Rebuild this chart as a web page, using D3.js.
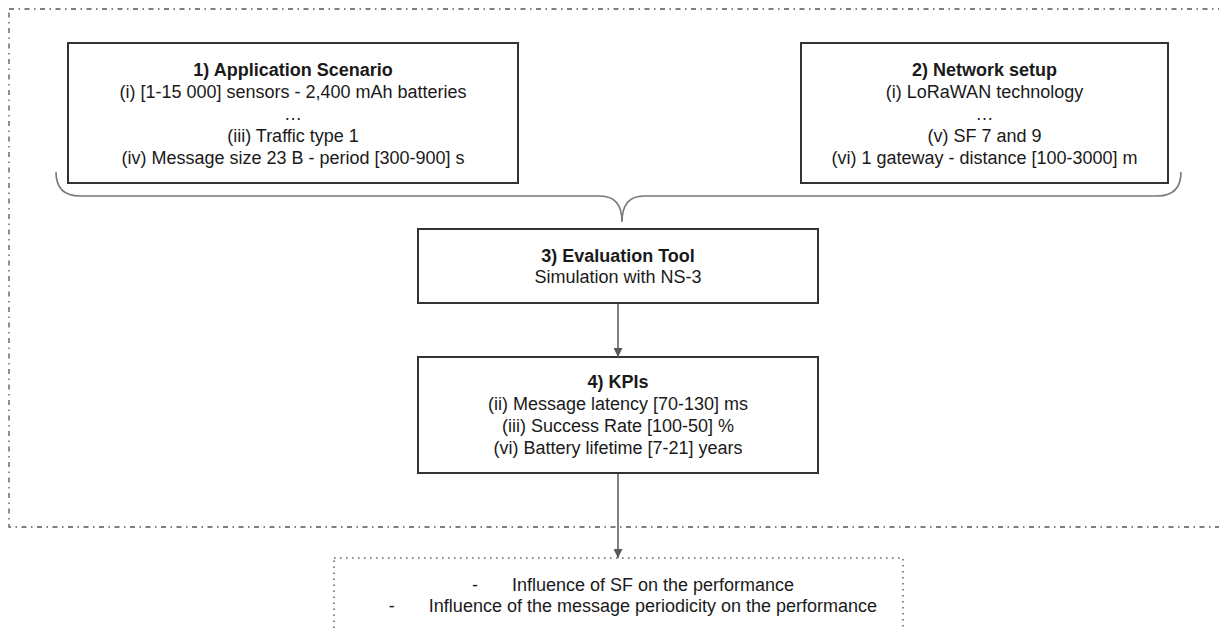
<!DOCTYPE html>
<html>
<head>
<meta charset="utf-8">
<script src="https://cdn.jsdelivr.net/npm/d3@7"></script>
<style>
    body { margin: 0; background: #fff; }
    svg text { font-family: "Liberation Sans", Arial, sans-serif; font-size: 18px; fill: #1a1a1a; }
</style>
</head>
<body>
<svg id="chart" width="1219" height="630"></svg>
<script>
// box contents
var boxTitles = ["1) Application Scenario", "2) Network setup", "3) Evaluation Tool", "4) KPIs"];
var boxLines = [
    ["(i) [1-15 000] sensors - 2,400 mAh batteries", "\u2026", "(iii) Traffic type 1", "(iv) Message size 23 B - period [300-900] s"],
    ["(i) LoRaWAN technology", "\u2026", "(v) SF 7 and 9", "(vi) 1 gateway - distance [100-3000] m"],
    ["Simulation with NS-3"],
    ["(ii) Message latency [70-130] ms", "(iii) Success Rate [100-50] %", "(vi) Battery lifetime [7-21] years"]
];
var findings = ["Influence of SF on the performance", "Influence of the message periodicity on the performance"];

// layout
var boxLayout = [
    { x: 68, y: 43, w: 450, h: 140 },
    { x: 801, y: 43, w: 367, h: 140 },
    { x: 418, y: 229, w: 400, h: 74 },
    { x: 418, y: 357, w: 400, h: 116 }
];
var lineGap = 22;
var midX = 618;

var svg = d3.select("#chart");

svg.append("defs").append("marker")
    .attr("id", "head")
    .attr("viewBox", "0 0 10 10")
    .attr("refX", 10)
    .attr("refY", 5)
    .attr("markerWidth", 10)
    .attr("markerHeight", 9)
    .attr("markerUnits", "userSpaceOnUse")
    .attr("orient", "auto")
    .append("path")
    .attr("d", "M0,0 L10,5 L0,10 Z")
    .attr("fill", "#595959");

// outer dash-dot frame (right side runs off the page)
svg.append("rect")
    .attr("x", 9)
    .attr("y", 9)
    .attr("width", 1230)
    .attr("height", 518)
    .attr("fill", "none")
    .attr("stroke", "#555")
    .attr("stroke-width", 1.3)
    .attr("stroke-dasharray", "5,4.5,1.5,4.5");

// brace joining boxes 1 and 2 into box 3
var b1 = boxLayout[0], b2 = boxLayout[1];
var braceY = 196, tipY = 222, r = 24;
var left = b1.x - 12, right = b2.x + b2.w + 13;
var brace = d3.path();
brace.moveTo(left, 172);
brace.quadraticCurveTo(left, braceY, left + r, braceY);
brace.lineTo(midX - 18, braceY);
brace.quadraticCurveTo(midX + 4, braceY, midX + 4, tipY);
brace.quadraticCurveTo(midX + 4, braceY, midX + 26, braceY);
brace.lineTo(right - r, braceY);
brace.quadraticCurveTo(right, braceY, right, 172);
svg.append("path")
    .attr("d", brace.toString())
    .attr("fill", "none")
    .attr("stroke", "#777")
    .attr("stroke-width", 1.6);

// boxes
boxLayout.forEach(function (b, i) {
    svg.append("rect")
        .attr("x", b.x)
        .attr("y", b.y)
        .attr("width", b.w)
        .attr("height", b.h)
        .attr("fill", "#fff")
        .attr("stroke", "#333")
        .attr("stroke-width", 2);

    var cx = b.x + b.w / 2;
    var y0 = b.y + (i < 2 ? 33 : i == 2 ? 33 : 31);
    svg.append("text")
        .attr("x", cx)
        .attr("y", y0)
        .attr("text-anchor", "middle")
        .style("font-weight", "bold")
        .text(boxTitles[i]);
    boxLines[i].forEach(function (line, j) {
        svg.append("text")
            .attr("x", cx)
            .attr("y", y0 + (j + 1) * lineGap - (i == 2 ? 1 : 0))
            .attr("text-anchor", "middle")
            .text(line);
    });
});

// arrows
var b3 = boxLayout[2], b4 = boxLayout[3];
[[b3.y + b3.h, b4.y], [b4.y + b4.h, 558]].forEach(function (a) {
    svg.append("line")
        .attr("x1", midX)
        .attr("x2", midX)
        .attr("y1", a[0] + 1)
        .attr("y2", a[1])
        .attr("stroke", "#595959")
        .attr("stroke-width", 1.5)
        .attr("marker-end", "url(#head)");
});

// dotted findings box
svg.append("rect")
    .attr("x", 334)
    .attr("y", 558)
    .attr("width", 569)
    .attr("height", 120)
    .attr("fill", "none")
    .attr("stroke", "#666")
    .attr("stroke-width", 1.6)
    .attr("stroke-dasharray", "1.6,4.4");

var centerX = 633;
findings.forEach(function (f, i) {
    var y = 591 + i * 21;
    var t = svg.append("text").attr("y", y).text(f);
    var w = t.node().getComputedTextLength();
    var start = centerX - (w + 40) / 2;
    t.attr("x", start + 40);
    svg.append("text")
        .attr("x", start + 3)
        .attr("y", y)
        .attr("text-anchor", "middle")
        .text("-");
});
</script>
</body>
</html>
